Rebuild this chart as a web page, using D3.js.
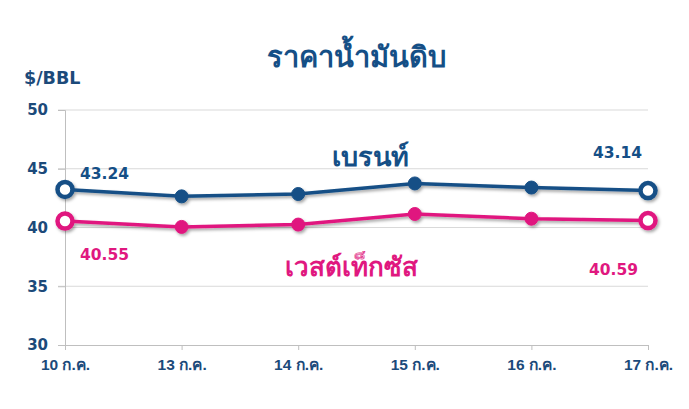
<!DOCTYPE html>
<html><head><meta charset="utf-8">
<script src="https://cdn.jsdelivr.net/npm/d3@7"></script>
<style>body{margin:0;background:#fff}</style>
</head><body>
<svg id="c" width="689" height="409"></svg>
<script>
const categories = ["10 ก.ค.","13 ก.ค.","14 ก.ค.","15 ก.ค.","16 ก.ค.","17 ก.ค."];
const brent = [43.24, 42.65, 42.85, 43.75, 43.4, 43.14];
const wti = [40.55, 40.05, 40.25, 41.15, 40.75, 40.59];
const yTicks = [30,35,40,45,50];
const seriesNames = ["เบรนท์","เวสต์เท็กซัส"];
const title = "ราคาน้ำมันดิบ";
const unit = "$/BBL";

const blue = "#154f86", pink = "#e0187f", axisTxt = "#1c4a7a";
const svg = d3.select("#c");
const defs = svg.append("defs");
const f = defs.append("filter").attr("id","sh").attr("x","-10%").attr("y","-30%").attr("width","120%").attr("height","160%");
f.append("feDropShadow").attr("dx",1.5).attr("dy",2).attr("stdDeviation",1.5).attr("flood-color","#000").attr("flood-opacity",0.35);

const x = d3.scalePoint().domain(categories).range([65,648]);
const y = d3.scaleLinear().domain([30,50]).range([345,110]);
const font = "'Liberation Sans Narrow','Liberation Sans',sans-serif";
const numFont = "'DejaVu Sans',sans-serif";

// grid
svg.append("g").selectAll("line").data(yTicks.filter(d=>d>30)).join("line")
  .attr("x1",58).attr("x2",648).attr("y1",d=>y(d)).attr("y2",d=>y(d))
  .attr("stroke","#d9d9d9").attr("stroke-width",1);

const gx = svg.append("g").attr("transform","translate(0,345)")
  .call(d3.axisBottom(x).tickSize(5).tickPadding(9));
gx.select(".domain").attr("stroke","#bfbfbf");
gx.selectAll(".tick line").attr("stroke","#bfbfbf");
gx.selectAll("text").attr("fill",axisTxt).attr("font-family",font).attr("font-weight","bold").attr("font-size",15.5);

const gy = svg.append("g").attr("transform","translate(65,0)")
  .call(d3.axisLeft(y).tickValues(yTicks).tickSize(7).tickPadding(10));
gy.select(".domain").attr("stroke","#bfbfbf");
gy.selectAll(".tick line").attr("stroke","#bfbfbf");
gy.selectAll("text").attr("fill",axisTxt).attr("font-family",numFont).attr("font-weight","bold").attr("font-size",15);

svg.append("text").attr("x",356).attr("y",67).attr("text-anchor","middle")
  .attr("fill",blue).attr("font-size",29).attr("font-weight","bold").attr("font-family","sans-serif").text(title);
svg.append("text").attr("x",24).attr("y",84)
  .attr("fill",axisTxt).attr("font-size",17.5).attr("font-weight","bold").attr("font-family",numFont).text(unit);

const line = d3.line().x((d,i)=>x(categories[i])).y(d=>y(d));
function drawSeries(vals,color){
  const g = svg.append("g").attr("filter","url(#sh)");
  g.append("path").datum(vals).attr("d",line).attr("fill","none").attr("stroke",color).attr("stroke-width",3.5);
  g.selectAll("circle").data(vals).join("circle")
    .attr("cx",(d,i)=>x(categories[i])).attr("cy",d=>y(d))
    .attr("r",(d,i)=>(i===0||i===vals.length-1)?7.5:6.5)
    .attr("fill",(d,i)=>(i===0||i===vals.length-1)?"#fff":color)
    .attr("stroke",color).attr("stroke-width",(d,i)=>(i===0||i===vals.length-1)?4.5:1);
}
drawSeries(wti,pink);
drawSeries(brent,blue);

function lbl(xp,yp,anchor,color,txt){
  svg.append("text").attr("x",xp).attr("y",yp).attr("text-anchor",anchor).attr("fill",color)
    .attr("font-size",15.5).attr("font-weight","bold").attr("font-family",numFont).text(txt);
}
lbl(x(categories[0])+15, 179, "start", blue, brent[0].toFixed(2));
lbl(x(categories[5])-6, 158, "end", blue, brent[5].toFixed(2));
lbl(x(categories[0])+15, 260, "start", pink, wti[0].toFixed(2));
lbl(x(categories[5])-10, 275, "end", pink, wti[5].toFixed(2));

svg.append("text").attr("x",370).attr("y",166).attr("text-anchor","middle").attr("fill",blue)
  .attr("font-size",27).attr("font-weight","bold").attr("font-family","sans-serif").text(seriesNames[0]);
svg.append("text").attr("x",351).attr("y",276).attr("text-anchor","middle").attr("fill",pink)
  .attr("font-size",26).attr("font-weight","bold").attr("font-family","sans-serif").text(seriesNames[1]);
</script>
</body></html>
